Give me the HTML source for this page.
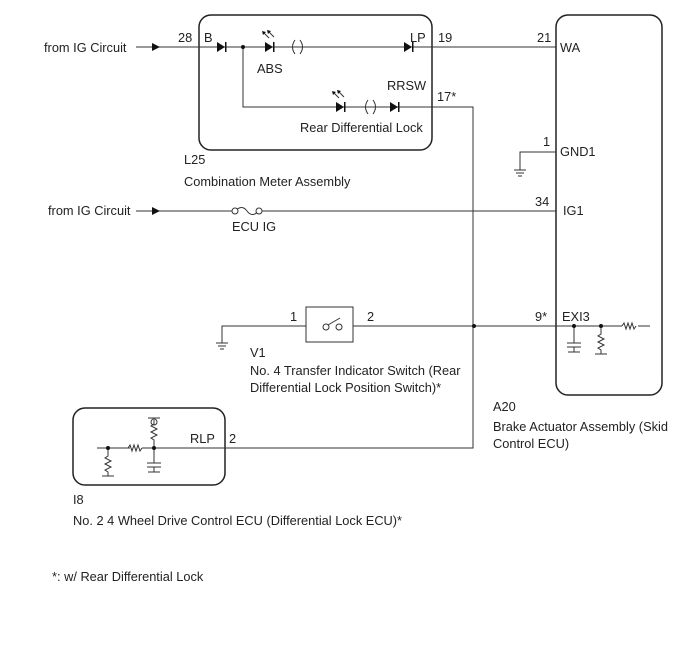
<!DOCTYPE html>
<html><head><style>
body{margin:0;background:#fff}
svg text{font-family:"Liberation Sans",sans-serif;font-size:12.8px;fill:#222}
</style></head><body>
<svg width="688" height="658" viewBox="0 0 688 658" xmlns="http://www.w3.org/2000/svg">
<g fill="none" stroke="#222" stroke-width="1.5">
<rect x="199" y="15" width="233" height="135" rx="12"/>
<rect x="556" y="15" width="106" height="380" rx="12"/>
<rect x="73" y="408" width="152" height="77" rx="12"/>
</g>
<g fill="none" stroke="#333" stroke-width="1">
<line x1="136" y1="47" x2="556" y2="47"/>
<polyline points="243,47 243,107 473,107 473,448 222,448"/>
<line x1="136" y1="211" x2="232" y2="211"/><line x1="262" y1="211" x2="556" y2="211"/>
<path d="M235,211 q7,-7 12,0 q5,7 12,0"/>
<circle cx="235" cy="211" r="3" fill="#fff"/><circle cx="259" cy="211" r="3" fill="#fff"/>
<polyline points="556,152 520,152 520,170"/>
<line x1="514" y1="170" x2="526" y2="170"/><line x1="516" y1="173" x2="524" y2="173"/><line x1="518" y1="176" x2="522" y2="176"/>
<polyline points="222,343 222,326 306,326"/>
<line x1="216" y1="343" x2="228" y2="343"/><line x1="218" y1="346" x2="226" y2="346"/><line x1="220" y1="349" x2="224" y2="349"/>
<rect x="306" y="307" width="47" height="35"/>
<line x1="353" y1="326" x2="622" y2="326"/><line x1="638" y1="326" x2="650" y2="326"/>
<circle cx="326" cy="327" r="3"/><circle cx="339" cy="327" r="3"/><line x1="328" y1="325" x2="340" y2="318"/>
<path d="M622,326 l2,-3 l2,6 l2,-6 l2,6 l2,-6 l2,6 l2,-3"/>
<line x1="574" y1="326" x2="574" y2="343"/><line x1="567" y1="343" x2="581" y2="343"/><line x1="567" y1="347" x2="581" y2="347"/><line x1="574" y1="347" x2="574" y2="352"/>
<line x1="568" y1="352" x2="580" y2="352"/>
<path d="M601,326 v8 l-3,2 l6,3 l-6,3 l6,3 l-6,3 l3,2 v4"/><line x1="595" y1="354" x2="607" y2="354"/>
<line x1="97" y1="448" x2="222" y2="448"/>
<path d="M108,448 v8 l-3,2 l6,3 l-6,3 l6,3 l-6,3 l3,2 v4"/><line x1="102" y1="476" x2="114" y2="476"/>
<path d="M154,448 v-8 l-3,-2 l6,-3 l-6,-3 l6,-3 l-6,-3 l3,-2 v-4"/><circle cx="154" cy="422" r="3"/><line x1="148" y1="418" x2="160" y2="418"/>
<line x1="154" y1="448" x2="154" y2="463"/><line x1="147" y1="463" x2="161" y2="463"/><line x1="147" y1="467" x2="161" y2="467"/><line x1="154" y1="467" x2="154" y2="472"/><line x1="148" y1="472" x2="160" y2="472"/>
<path d="M295,40 q-5,7 0,14 M300,40 q5,7 0,14"/>
<path d="M368,100 q-5,7 0,14 M373,100 q5,7 0,14"/>
<path d="M263,32 l6,6 M268,31 l6,6 M333,92 l6,6 M338,91 l6,6"/>
</g>
<g fill="#111">
<polygon points="262,31 266,32 263,35"/><polygon points="267,30 271,31 268,34"/>
<polygon points="332,91 336,92 333,95"/><polygon points="337,90 341,91 338,94"/>
</g>
<rect x="130" y="444" width="12" height="8" fill="#fff"/>
<path d="M128,448 l2,-3 l2,6 l2,-6 l2,6 l2,-6 l2,6 l2,-3" fill="none" stroke="#333"/>
<g fill="#111">
<polygon points="152,43 160,47 152,51"/><polygon points="152,207 160,211 152,215"/>
<polygon points="217,42 225,47 217,52"/><rect x="225" y="42" width="1.5" height="10"/>
<polygon points="265,42 273,47 265,52"/><rect x="273" y="42" width="1.5" height="10"/>
<polygon points="404,42 412,47 404,52"/><rect x="412" y="42" width="1.5" height="10"/>
<polygon points="336,102 344,107 336,112"/><rect x="344" y="102" width="1.5" height="10"/>
<polygon points="390,102 398,107 390,112"/><rect x="398" y="102" width="1.5" height="10"/>
<circle cx="243" cy="47" r="2"/><circle cx="474" cy="326" r="2"/><circle cx="574" cy="326" r="2"/><circle cx="601" cy="326" r="2"/>
<circle cx="108" cy="448" r="2"/><circle cx="154" cy="448" r="2"/>
</g>
<text x="44" y="52">from IG Circuit</text>
<text x="178" y="42">28</text><text x="204" y="42">B</text>
<text x="257" y="73">ABS</text><text x="410" y="42">LP</text>
<text x="438" y="42">19</text><text x="537" y="42">21</text><text x="560" y="52">WA</text>
<text x="387" y="90">RRSW</text><text x="437" y="101">17*</text>
<text x="300" y="132">Rear Differential Lock</text>
<text x="184" y="164">L25</text><text x="184" y="186">Combination Meter Assembly</text>
<text x="543" y="146">1</text><text x="560" y="156">GND1</text>
<text x="48" y="215">from IG Circuit</text><text x="232" y="231">ECU IG</text>
<text x="535" y="206">34</text><text x="563" y="215">IG1</text>
<text x="290" y="321">1</text><text x="367" y="321">2</text>
<text x="535" y="321">9*</text><text x="562" y="321">EXI3</text>
<text x="250" y="357">V1</text>
<text x="250" y="375">No. 4 Transfer Indicator Switch (Rear</text>
<text x="250" y="392">Differential Lock Position Switch)*</text>
<text x="493" y="411">A20</text>
<text x="493" y="431">Brake Actuator Assembly (Skid</text>
<text x="493" y="448">Control ECU)</text>
<text x="190" y="443">RLP</text><text x="229" y="443">2</text>
<text x="73" y="504">I8</text>
<text x="73" y="525">No. 2 4 Wheel Drive Control ECU (Differential Lock ECU)*</text>
<text x="52" y="581">*: w/ Rear Differential Lock</text>
</svg>
</body></html>
